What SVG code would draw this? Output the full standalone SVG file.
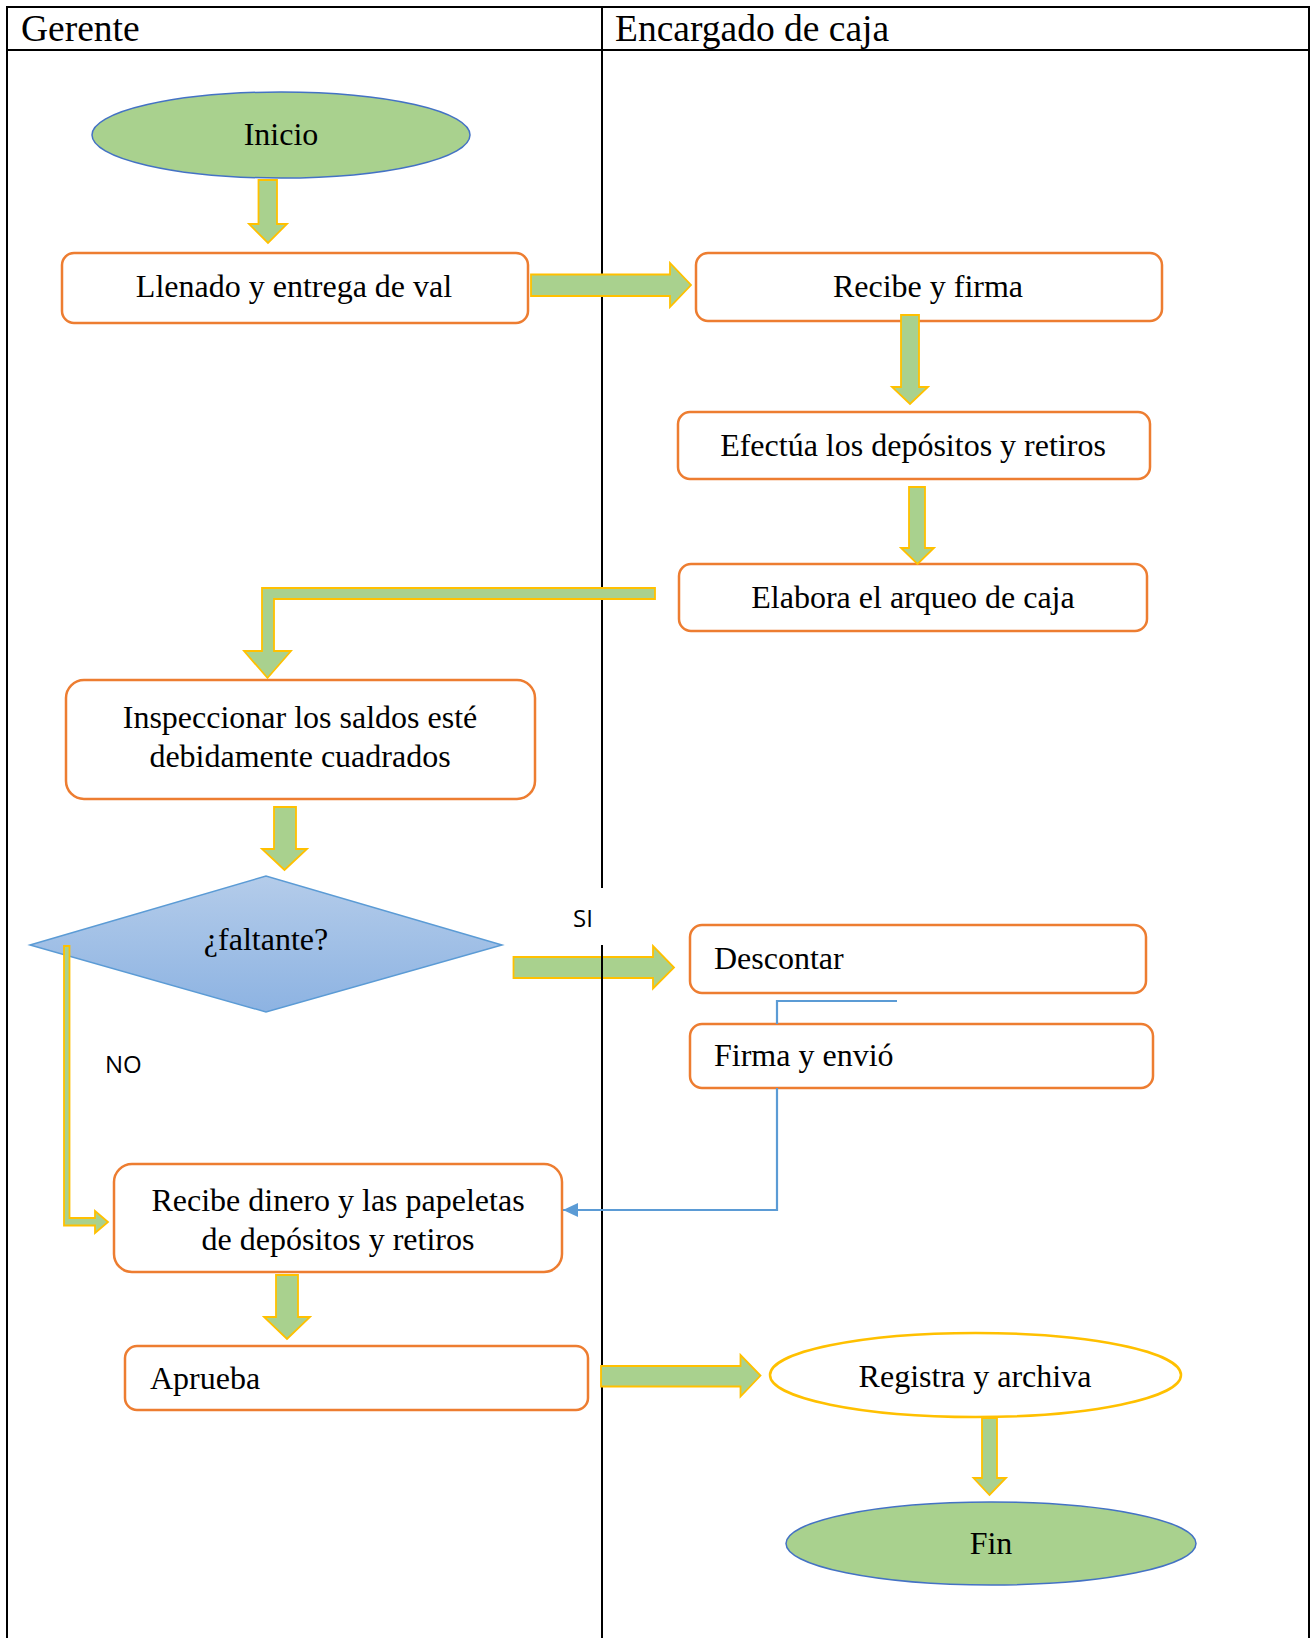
<svg xmlns="http://www.w3.org/2000/svg" width="1312" height="1638" viewBox="0 0 1312 1638">
<style>
.lane{fill:none;stroke:#000;stroke-width:2}
.hdr{font-family:"Liberation Serif","Times New Roman",serif;font-size:37.5px;fill:#000}
.txt{font-family:"Liberation Serif","Times New Roman",serif;font-size:32px;fill:#000}
.mid{text-anchor:middle}
.lbl{font-family:"Open Sans","Liberation Sans",sans-serif;font-size:24px;fill:#000}
.box{fill:#fff;stroke:#ED7D31;stroke-width:2.5}
.term{fill:#A9D18E;stroke:#4472C4;stroke-width:1.5}
.garrow{fill:#A9D18E;stroke:#FFC000;stroke-width:1.8;stroke-linejoin:miter}
.blue{fill:none;stroke:#5B9BD5;stroke-width:2.2}
</style>
<defs>
<linearGradient id="dg" x1="0" y1="0" x2="0" y2="1">
<stop offset="0" stop-color="#B4CCEA"/>
<stop offset="1" stop-color="#8DB3E2"/>
</linearGradient>
<marker id="bh" markerUnits="userSpaceOnUse" markerWidth="15" markerHeight="14" viewBox="0 0 15 14" refX="15" refY="7" orient="auto">
<path d="M0,0 L15,7 L0,14 z" fill="#5B9BD5"/>
</marker>
</defs>
<rect width="1312" height="1638" fill="#fff"/>
<g id="lanes">
<rect class="lane" x="7" y="7" width="1302" height="1640"/>
<line class="lane" x1="7" y1="50" x2="1309" y2="50"/>
<line class="lane" x1="602" y1="7" x2="602" y2="888"/>
<line class="lane" x1="602" y1="945" x2="602" y2="1638"/>
<text class="hdr" x="21" y="41">Gerente</text>
<text class="hdr" x="615" y="41">Encargado de caja</text>
</g>
<g id="nodes">
<g id="inicio"><ellipse class="term" cx="281" cy="135" rx="189" ry="43"/><text class="txt mid" x="281" y="145">Inicio</text></g>
<g id="llenado"><rect class="box" x="62" y="253" width="466" height="70" rx="12"/><text class="txt mid" x="294" y="297">Llenado y entrega de val</text></g>
<g id="recibe-firma"><rect class="box" x="696" y="253" width="466" height="68" rx="12"/><text class="txt mid" x="928" y="297">Recibe y firma</text></g>
<g id="efectua"><rect class="box" x="678" y="412" width="472" height="67" rx="12"/><text class="txt mid" x="913" y="456">Efectúa los depósitos y retiros</text></g>
<g id="elabora"><rect class="box" x="679" y="564" width="468" height="67" rx="12"/><text class="txt mid" x="913" y="608">Elabora el arqueo de caja</text></g>
<g id="inspeccionar"><rect class="box" x="66" y="680" width="469" height="119" rx="18"/><text class="txt mid" x="300" y="728">Inspeccionar los saldos esté</text><text class="txt mid" x="300" y="767">debidamente cuadrados</text></g>
<g id="faltante"><polygon points="30,945 266,876 502,945 266,1012" fill="url(#dg)" stroke="#5B9BD5" stroke-width="1.5"/><text class="txt mid" x="266" y="950">¿faltante?</text></g>
<g id="descontar"><rect class="box" x="690" y="925" width="456" height="68" rx="12"/><text class="txt" x="714" y="969">Descontar</text></g>
<g id="firma-envio"><rect class="box" x="690" y="1024" width="463" height="64" rx="12"/><text class="txt" x="714" y="1066">Firma y envió</text></g>
<g id="recibe-dinero"><rect class="box" x="114" y="1164" width="448" height="108" rx="18"/><text class="txt mid" x="338" y="1211">Recibe dinero y las papeletas</text><text class="txt mid" x="338" y="1250">de depósitos y retiros</text></g>
<g id="aprueba"><rect class="box" x="125" y="1346" width="463" height="64" rx="12"/><text class="txt" x="150" y="1389">Aprueba</text></g>
<g id="registra"><ellipse cx="975.5" cy="1375" rx="205.5" ry="42" fill="#fff" stroke="#FFC000" stroke-width="2.5"/><text class="txt mid" x="975" y="1387">Registra y archiva</text></g>
<g id="fin"><ellipse class="term" cx="991" cy="1543.5" rx="205" ry="41.5"/><text class="txt mid" x="991" y="1554">Fin</text></g>
</g>
<g id="connectors">
<polygon class="garrow" points="258.5,180 277,180 277,224 287,224 268,243 249,224 258.5,224"/>
<polygon class="garrow" points="531,274.5 670,274.5 670,263 691,285 670,307 670,296 531,296"/>
<polygon class="garrow" points="901,315 919,315 919,387 928,387 910,404 892,387 901,387"/>
<polygon class="garrow" points="909,487 925,487 925,548 934,548 917.5,564 901,548 909,548"/>
<polygon class="garrow" points="655,588 262,588 262,651 244,651 267.5,678 291,651 274,651 274,599 655,599"/>
<polygon class="garrow" points="274,807 296,807 296,849 307,849 284.5,870 262,849 274,849"/>
<polygon class="garrow" points="513.5,957 653,957 653,946 674,967.5 653,988.5 653,978 513.5,978"/>
<polygon class="garrow" points="64,946 69.5,946 69.5,1218 95,1218 95,1211 108,1222 95,1233 95,1225.5 64,1225.5"/>
<polygon class="garrow" points="276,1275 298,1275 298,1317 310,1317 287,1339 264,1317 276,1317"/>
<polygon class="garrow" points="601,1366 740.5,1366 740.5,1355 760.5,1375.5 740.5,1396.5 740.5,1386.5 601,1386.5"/>
<polygon class="garrow" points="982,1418 997,1418 997,1478 1006,1478 989.5,1495 973.5,1478 982,1478"/>
<path class="blue" d="M897,1001 H777 V1024"/>
<path class="blue" d="M777,1088 V1210 H563" marker-end="url(#bh)"/>
<text class="lbl" x="573" y="927">SI</text>
<text class="lbl" x="105" y="1073">NO</text>
<line class="lane" x1="602" y1="945" x2="602" y2="990"/>
</g>
</svg>
